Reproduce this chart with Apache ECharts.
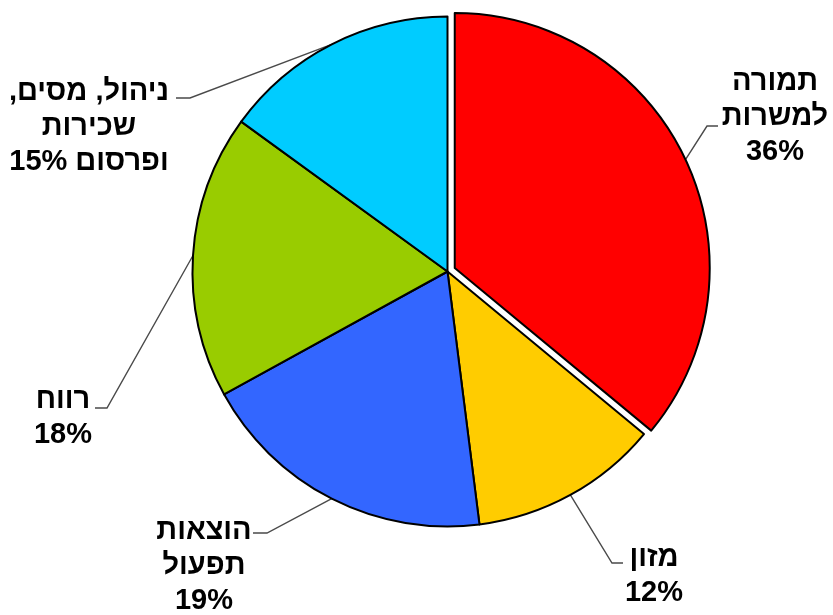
<!DOCTYPE html>
<html>
<head>
<meta charset="utf-8">
<script src="https://cdn.jsdelivr.net/npm/echarts@6/dist/echarts.min.js"></script>
<style>
  html, body { margin: 0; padding: 0; background: #ffffff; }
  #chart { width: 833px; height: 615px; direction: rtl; }
</style>
</head>
<body>
<div id="chart" dir="rtl"></div>
<script>
// ---- data ----
const categories = ['תמורה\nלמשרות', 'מזון', 'הוצאות\nתפעול', 'רווח', 'ניהול, מסים,\nשכירות\nופרסום'];
const values = [36, 12, 19, 18, 15];
const colors = ['#FF0000', '#FFCC00', '#3366FF', '#99CC00', '#00CCFF'];
const percentJoin = ['\n', '\n', '\n', '\n', ' '];
const exploded = [true, false, false, false, false];

// ---- layout / style ----
const CENTER = [447.5, 271.5];
const RADIUS = 255;
const EXPLODE = 8;
const labelLayoutCfg = [
  { x: 775, y: 117, bend: [707, 126], end: [718, 126] },
  { x: 654, y: 575, bend: [612, 563], end: [623, 563] },
  { x: 204, y: 566, bend: [267, 533], end: [253, 533] },
  { x: 63,  y: 417, bend: [107, 408], end: [95, 408] },
  { x: 89,  y: 127, bend: [190, 98],  end: [176, 98] }
];

// explode offset along each slice's mid angle (start at 12 o'clock, clockwise)
const total = values.reduce(function (a, b) { return a + b; }, 0);
const offsets = [];
(function () {
  let acc = 0;
  for (let i = 0; i < values.length; i++) {
    const mid = (acc + values[i] / 2) / total * 2 * Math.PI;
    acc += values[i];
    const k = exploded[i] ? EXPLODE : 0;
    offsets.push([Math.sin(mid) * k, -Math.cos(mid) * k]);
  }
})();

const labelStyle = {
  show: true,
  position: 'outside',
  overflow: 'none',
  color: '#000000',
  fontFamily: 'Liberation Sans, Arial, sans-serif',
  fontWeight: 'bold',
  fontSize: 29,
  lineHeight: 35,
  align: 'center',
  formatter: function (p) {
    return p.name + percentJoin[p.dataIndex] + p.value + '%';
  }
};

function baseData() {
  return categories.map(function (name, i) {
    return {
      name: name,
      value: values[i],
      itemStyle: exploded[i]
        ? { color: 'rgba(0,0,0,0)', borderWidth: 0 }
        : { color: colors[i] }
    };
  });
}

function explodedData(idx) {
  return categories.map(function (name, i) {
    return {
      name: name,
      value: values[i],
      itemStyle: i === idx
        ? { color: colors[i] }
        : { color: 'rgba(0,0,0,0)', borderWidth: 0 }
    };
  });
}

const series = [{
  type: 'pie',
  center: CENTER,
  radius: RADIUS,
  startAngle: 90,
  clockwise: true,
  avoidLabelOverlap: false,
  itemStyle: { borderColor: '#000000', borderWidth: 2 },
  emphasis: { disabled: true },
  label: labelStyle,
  labelLine: { show: true, lineStyle: { color: '#4a4a4a', width: 1.4 } },
  labelLayout: function (params) {
    const i = params.dataIndex;
    const c = labelLayoutCfg[i];
    const p0 = params.labelLinePoints ? params.labelLinePoints[0] : c.bend;
    const start = [p0[0] + offsets[i][0], p0[1] + offsets[i][1]];
    return {
      x: c.x,
      y: c.y,
      align: 'center',
      verticalAlign: 'middle',
      labelLinePoints: [start, c.bend, c.end]
    };
  },
  data: baseData()
}];

exploded.forEach(function (isExp, idx) {
  if (!isExp) return;
  series.push({
    type: 'pie',
    silent: true,
    center: [CENTER[0] + offsets[idx][0], CENTER[1] + offsets[idx][1]],
    radius: RADIUS,
    startAngle: 90,
    clockwise: true,
    itemStyle: { borderColor: '#000000', borderWidth: 2 },
    emphasis: { disabled: true },
    label: { show: false },
    labelLine: { show: false },
    data: explodedData(idx)
  });
});

const chart = echarts.init(document.getElementById('chart'), null, { renderer: 'canvas' });
chart.setOption({ animation: false, backgroundColor: '#ffffff', series: series });
</script>
</body>
</html>
